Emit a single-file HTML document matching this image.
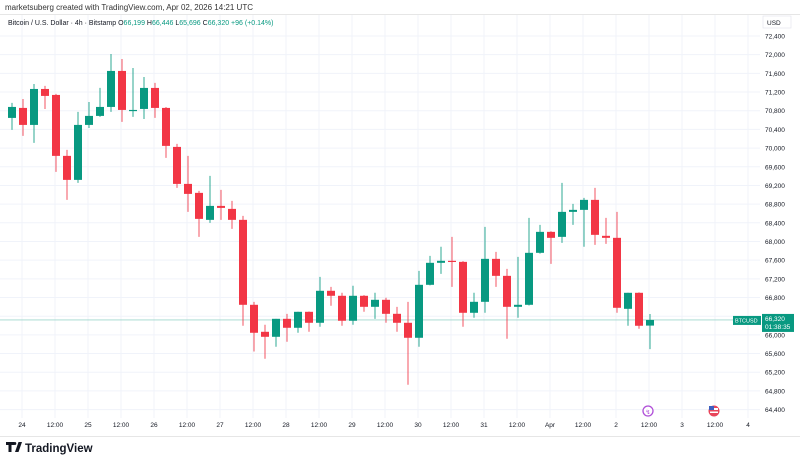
<!DOCTYPE html>
<html><head><meta charset="utf-8"><style>
body{margin:0;width:800px;height:462px;background:#fff;overflow:hidden;font-family:"Liberation Sans",sans-serif}
svg{display:block}
</style></head><body>
<svg id="c" width="800" height="462" xmlns="http://www.w3.org/2000/svg">
<text x="5" y="10" font-size="8" fill="#333">marketsuberg created with TradingView.com, Apr 02, 2026 14:21 UTC</text>
<line x1="0" y1="14.5" x2="800" y2="14.5" stroke="#e6e6e6"/>
<g id="grid"></g>
<g id="candles"></g>
<g id="axis"></g>
<text x="8" y="25" font-size="7" fill="#131722">Bitcoin / U.S. Dollar · 4h · Bitstamp <tspan fill="#131722">O</tspan><tspan fill="#089981">66,199</tspan> <tspan fill="#131722">H</tspan><tspan fill="#089981">66,446</tspan> <tspan fill="#131722">L</tspan><tspan fill="#089981">65,696</tspan> <tspan fill="#131722">C</tspan><tspan fill="#089981">66,320 +96 (+0.14%)</tspan></text>
<rect x="763" y="16" width="28" height="12" fill="#fff" stroke="#e0e3eb" stroke-width="0.6"/>
<text x="767" y="25" font-size="6.5" fill="#131722">USD</text>
<line x1="0" y1="436.5" x2="800" y2="436.5" stroke="#e6e6e6"/>
<g>
<path d="M6 442h8v3h-2.5v7h-3v-7H6z M15 452l3.5-10h3.5l-3.5 10z" fill="#131722"/>
<circle cx="14.8" cy="443.5" r="1.5" fill="#131722"/>
<text x="25" y="452" font-size="11.5" font-weight="bold" fill="#131722">TradingView</text>
</g>
<circle cx="648" cy="411" r="5" fill="#fff" stroke="#b04fd8" stroke-width="1.3"/>
<text x="645.5" y="414" font-size="6" fill="#b04fd8">↯</text>
<g><circle cx="714" cy="411" r="5.5" fill="#e8445a"/><rect x="710" y="408" width="8" height="2" fill="#fff"/><rect x="710" y="411.5" width="8" height="1.5" fill="#fff"/><rect x="709" y="406" width="5" height="4" fill="#3c5fbf"/></g>
</svg>
<script>
const opens=[70646,70860,70496,71266,71138,69833,69319,70496,70689,70881,71652,70796,70838,71288,70860,70025,69233,69041,68463,68762,68698,68463,66644,66066,65959,66344,66152,66494,66259,66944,66837,66302,66837,66601,66751,66451,66259,65938,67072,67543,67586,67564,66473,66708,67628,67264,66601,66644,67757,68206,68099,68634,68677,68891,68121,68078,66558,66901,66199];
const highs=[70967,71052,71373,71331,71160,69961,70774,70988,71288,72015,71908,71716,71523,71395,70880,70089,69833,69083,69405,69105,68870,68547,66708,66216,66344,66451,66494,66500,67243,67029,66901,67051,66850,66901,66794,66601,66708,67371,67693,67886,68099,67580,66901,68313,67778,67414,67671,68506,68356,68220,69255,68805,68933,69147,68506,68634,66901,66910,66446];
const lows=[70389,70261,70111,70838,69490,68891,69255,70431,70667,70774,70560,70667,70624,70646,69790,69147,68634,68099,68399,68463,68271,66195,65643,65488,65745,65854,66045,66066,66173,66623,66195,66216,66494,66344,66259,66066,64932,65745,67060,67307,67029,66173,66366,66473,67029,65916,66366,66630,67740,67521,67971,68356,67886,67928,67949,66473,66195,66131,65696];
const closes=[70881,70496,71266,71117,69833,69319,70496,70689,70881,71652,70817,70817,71288,70860,70047,69233,69019,68484,68762,68719,68463,66644,66045,65959,66344,66152,66494,66259,66944,66837,66302,66837,66601,66751,66451,66259,65938,67072,67543,67586,67564,66473,66708,67628,67264,66601,66644,67757,68206,68078,68634,68677,68891,68142,68078,66580,66901,66195,66320];
const priceTicks=[72400,72000,71600,71200,70800,70400,70000,69600,69200,68800,68400,68000,67600,67200,66800,66400,66000,65600,65200,64800,64400];
const timeLabels=["24","12:00","25","12:00","26","12:00","27","12:00","28","12:00","29","12:00","30","12:00","31","12:00","Apr","12:00","2","12:00","3","12:00","4"];
const lastPrice=66320;
const NS="http://www.w3.org/2000/svg";
const yOf=p=>36+(72400-p)*0.0467;
const xOf=i=>12+11*i;
const xLabel=k=>22+33*k;
function mk(tag,attrs,parent){const e=document.createElementNS(NS,tag);for(const k in attrs)e.setAttribute(k,attrs[k]);parent.appendChild(e);return e;}
const grid=document.getElementById('grid'),cg=document.getElementById('candles'),ax=document.getElementById('axis');
priceTicks.forEach(p=>{const l=mk('line',{x1:0,x2:760,y1:yOf(p),y2:yOf(p),stroke:'#f0f3fa','stroke-width':1},grid);


const t=mk('text',{x:765,y:yOf(p)+2.5,'font-size':6.5,fill:'#131722'},ax);t.textContent=p.toLocaleString('en-US');

});
timeLabels.forEach((s,k)=>{const x=xLabel(k);const l=mk('line',{x1:x,x2:x,y1:15,y2:418,stroke:'#f0f3fa','stroke-width':1},grid);


const t=mk('text',{x:x,y:427,'font-size':6.5,fill:'#131722','text-anchor':'middle'},ax);t.textContent=s;

});
const ly=yOf(lastPrice);
const pl=mk('line',{x1:0,x2:760,y1:ly,y2:ly,stroke:'#9fd7cc','stroke-width':0.8},grid);


opens.forEach((o,i)=>{const c=closes[i],up=c>=o,col=up?'#089981':'#f23645',x=xOf(i);
const w=mk('line',{x1:x,x2:x,y1:yOf(highs[i]),y2:yOf(lows[i]),stroke:col,'stroke-width':1,opacity:0.85},cg);


const top=yOf(Math.max(o,c)),bot=yOf(Math.min(o,c));
const b=mk('rect',{x:x-4,y:top,width:8,height:Math.max(1.2,bot-top),fill:col},cg);

});
const g=mk('g',{},ax);


mk('rect',{x:733,y:ly-4,width:28,height:9,fill:'#089981'},g);
const bt=mk('text',{x:735,y:ly+2.5,'font-size':5.5,fill:'#fff'},g);bt.textContent='BTCUSD';
mk('rect',{x:762,y:ly-6,width:32,height:18,fill:'#089981'},g);
const t1=mk('text',{x:765,y:ly+1,'font-size':6.5,fill:'#fff'},g);t1.textContent=lastPrice.toLocaleString('en-US');
const t2=mk('text',{x:765,y:ly+9,'font-size':6.5,fill:'#fff'},g);t2.textContent='01:38:35';
</script>
</body></html>
